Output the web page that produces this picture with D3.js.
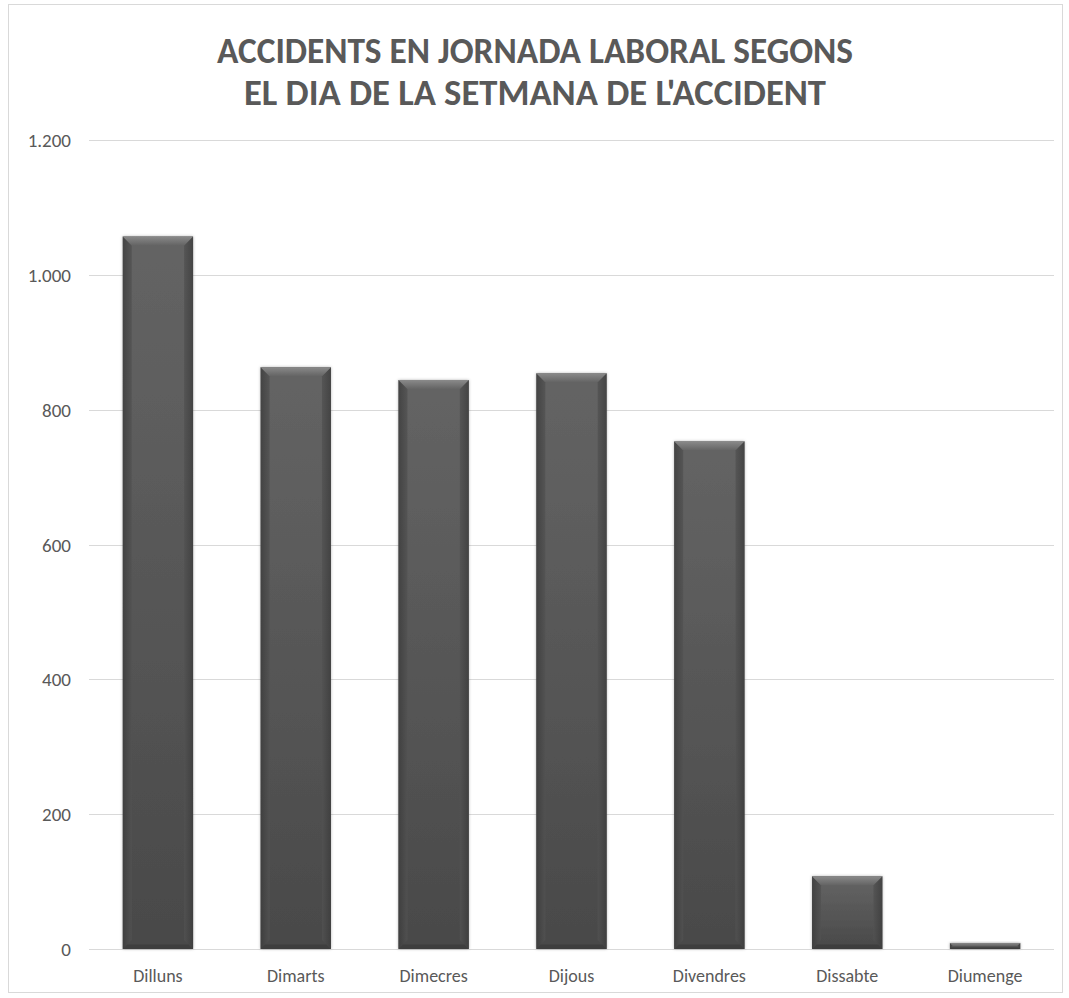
<!DOCTYPE html>
<html>
<head>
<meta charset="utf-8">
<script src="https://cdn.jsdelivr.net/npm/d3@7"></script>
<style>
    body { margin: 0; background: #fff; }
    text { font-family: Carlito, Lato, "Open Sans", sans-serif; }
</style>
</head>
<body>
<div id="chart"></div>
<script>
// Data
let days = ["Dilluns", "Dimarts", "Dimecres", "Dijous", "Divendres", "Dissabte", "Diumenge"];
let accidents = [1057, 863, 844, 854, 753, 108, 9];
let yTicks = [0, 200, 400, 600, 800, 1000, 1200];
let titleLines = ["ACCIDENTS EN JORNADA LABORAL SEGONS", "EL DIA DE LA SETMANA DE L'ACCIDENT"];

let width = 1069, height = 998;
let margin = {top: 140, right: 15, bottom: 49, left: 89};
let textColor = "#595959";
let fontStack = "Carlito, Lato, 'Open Sans', sans-serif";

let svg = d3.select("#chart")
    .append("svg")
    .attr("width", width)
    .attr("height", height);

// chart frame
svg.append("rect")
    .attr("x", 8.5).attr("y", 4.5)
    .attr("width", 1054).attr("height", 988)
    .attr("fill", "#fff")
    .attr("stroke", "#d9d9d9");

// gradients for the bevelled bars
let defs = svg.append("defs");
let body = defs.append("linearGradient").attr("id", "bodyGrad")
    .attr("x1", 0).attr("y1", 0).attr("x2", 0).attr("y2", 1);
body.append("stop").attr("offset", "0%").attr("stop-color", "#646464");
body.append("stop").attr("offset", "100%").attr("stop-color", "#494949");
let topGrad = defs.append("linearGradient").attr("id", "topGrad")
    .attr("x1", 0).attr("y1", 0).attr("x2", 0).attr("y2", 1);
topGrad.append("stop").attr("offset", "0%").attr("stop-color", "#8a8a8a");
topGrad.append("stop").attr("offset", "100%").attr("stop-color", "#646464");
let sideGrad = defs.append("linearGradient").attr("id", "sideGrad")
    .attr("x1", 0).attr("y1", 0).attr("x2", 1).attr("y2", 0);
sideGrad.append("stop").attr("offset", "0%").attr("stop-color", "#3c3c3c");
sideGrad.append("stop").attr("offset", "100%").attr("stop-color", "#525252");
let sideGradR = defs.append("linearGradient").attr("id", "sideGradR")
    .attr("x1", 0).attr("y1", 0).attr("x2", 1).attr("y2", 0);
sideGradR.append("stop").attr("offset", "0%").attr("stop-color", "#525252");
sideGradR.append("stop").attr("offset", "100%").attr("stop-color", "#3c3c3c");
let shadow = defs.append("filter").attr("id", "shadow")
    .attr("x", "-20%").attr("y", "-20%").attr("width", "140%").attr("height", "140%");
shadow.append("feDropShadow").attr("dx", 0).attr("dy", 0)
    .attr("stdDeviation", 1.5).attr("flood-color", "#000").attr("flood-opacity", 0.3);

// Title
svg.append("g").selectAll("text")
    .data(titleLines)
    .enter()
    .append("text")
    .attr("x", 535)
    .attr("y", function (d, i) { return 63 + i * 42; })
    .attr("text-anchor", "middle")
    .attr("fill", textColor)
    .attr("font-weight", "bold")
    .attr("font-size", 36)
    .attr("textLength", function (d, i) { return i === 0 ? 636 : 582; })
    .attr("lengthAdjust", "spacingAndGlyphs")
    .text(function (d) { return d; });

let x = d3.scaleBand()
    .domain(days)
    .range([margin.left, width - margin.right])
    .paddingInner(0.49)
    .paddingOuter(0.245);

let y = d3.scaleLinear()
    .domain([0, 1200])
    .range([height - margin.bottom, margin.top]);

let fmt = function (v) { return d3.format(",")(v).replace(/,/g, "."); };

// Gridlines
svg.append("g").selectAll("line")
    .data(yTicks)
    .enter()
    .append("line")
    .attr("x1", margin.left)
    .attr("x2", width - margin.right)
    .attr("y1", function (d) { return Math.round(y(d)) + 0.5; })
    .attr("y2", function (d) { return Math.round(y(d)) + 0.5; })
    .attr("stroke", "#d9d9d9")
    .attr("stroke-width", 1);

// Y axis labels
let yAxis = svg.append("g")
    .attr("transform", "translate(" + (margin.left - 18) + ",0)")
    .call(d3.axisLeft(y).tickValues(yTicks).tickFormat(fmt).tickSize(0).tickPadding(0));
yAxis.select(".domain").remove();
yAxis.selectAll("text")
    .attr("fill", textColor)
    .attr("font-size", 19)
    .attr("dy", "0.35em")
    .style("font-family", fontStack);

// X axis labels
let xAxis = svg.append("g")
    .attr("transform", "translate(0," + (height - margin.bottom) + ")")
    .call(d3.axisBottom(x).tickSize(0).tickPadding(20));
xAxis.select(".domain").remove();
xAxis.selectAll("text")
    .attr("fill", textColor)
    .attr("font-size", 18)
    .style("font-family", fontStack);

// Bars with a bevel
let bevel = 9;
let bars = svg.append("g").selectAll("g")
    .data(days.map(function (d, i) { return {day: d, value: accidents[i]}; }))
    .enter()
    .append("g");

bars.append("rect")
    .attr("x", function (d) { return x(d.day); })
    .attr("y", function (d) { return y(d.value); })
    .attr("width", x.bandwidth())
    .attr("height", function (d) { return y(0) - y(d.value); })
    .attr("fill", "url(#bodyGrad)")
    .attr("filter", "url(#shadow)");

// left and right side strips
bars.append("path")
    .attr("fill", "url(#sideGrad)")
    .attr("d", function (d) {
        let x0 = x(d.day), y0 = y(d.value), y1 = y(0);
        let b = Math.min(bevel, (y1 - y0) / 2);
        return "M" + x0 + "," + y0 + "L" + (x0 + b) + "," + (y0 + b) +
            "L" + (x0 + b) + "," + (y1 - b) + "L" + x0 + "," + y1 + "Z";
    })
    .attr("opacity", 0.8);
bars.append("path")
    .attr("fill", "url(#sideGradR)")
    .attr("d", function (d) {
        let x1 = x(d.day) + x.bandwidth(), y0 = y(d.value), y1 = y(0);
        let b = Math.min(bevel, (y1 - y0) / 2);
        return "M" + x1 + "," + y0 + "L" + (x1 - b) + "," + (y0 + b) +
            "L" + (x1 - b) + "," + (y1 - b) + "L" + x1 + "," + y1 + "Z";
    })
    .attr("opacity", 0.8);
// top highlight
bars.append("path")
    .attr("fill", "url(#topGrad)")
    .attr("d", function (d) {
        let x0 = x(d.day), x1 = x0 + x.bandwidth(), y0 = y(d.value), y1 = y(0);
        let b = Math.min(bevel, (y1 - y0) / 2);
        return "M" + x0 + "," + y0 + "L" + x1 + "," + y0 +
            "L" + (x1 - b) + "," + (y0 + b) + "L" + (x0 + b) + "," + (y0 + b) + "Z";
    });
// bottom shade
bars.append("path")
    .attr("fill", "#3e3e3e")
    .attr("d", function (d) {
        let x0 = x(d.day), x1 = x0 + x.bandwidth(), y0 = y(d.value), y1 = y(0);
        let b = Math.min(bevel, (y1 - y0) / 2) * 0.5;
        return "M" + x0 + "," + y1 + "L" + x1 + "," + y1 +
            "L" + (x1 - b) + "," + (y1 - b) + "L" + (x0 + b) + "," + (y1 - b) + "Z";
    });
</script>
</body>
</html>
